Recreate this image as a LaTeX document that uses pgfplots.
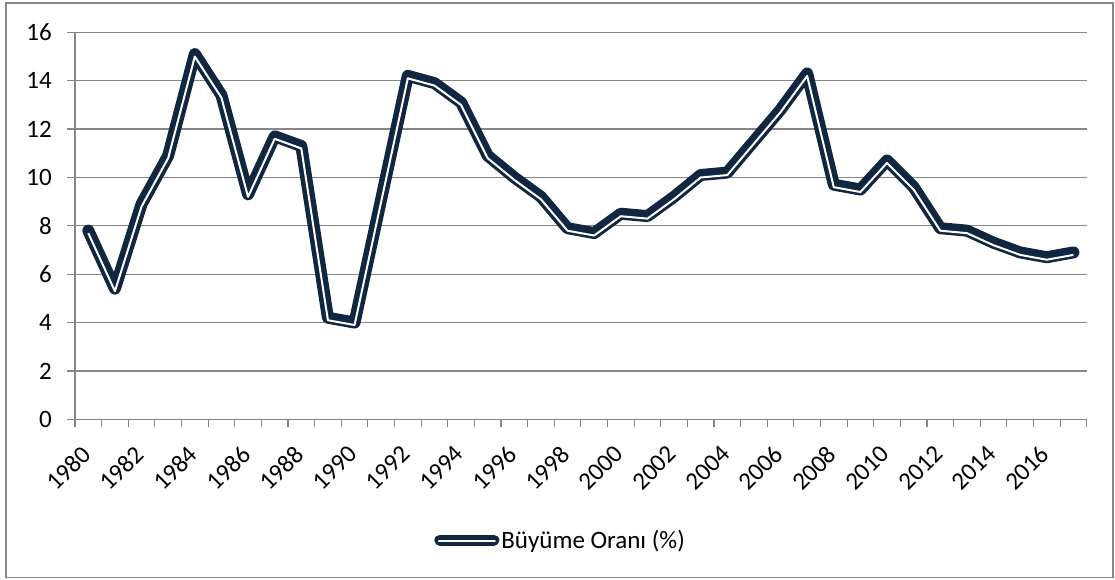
\documentclass[border=0pt]{standalone}
\usepackage{fontspec}
\setmainfont{Carlito}
\usepackage{pgfplots}
\pgfplotsset{compat=1.18}
\usepackage{pgfplotstable}
\definecolor{navy}{RGB}{17,38,64}
\definecolor{gridgray}{RGB}{134,134,134}
\pgfplotstableread{
year val
1980 7.8
1981 5.4
1982 8.9
1983 10.9
1984 15.1
1985 13.4
1986 9.3
1987 11.7
1988 11.3
1989 4.2
1990 4.0
1991 9.1
1992 14.2
1993 13.9
1994 13.1
1995 10.9
1996 10.0
1997 9.2
1998 7.9
1999 7.7
2000 8.5
2001 8.4
2002 9.2
2003 10.1
2004 10.2
2005 11.5
2006 12.8
2007 14.3
2008 9.7
2009 9.5
2010 10.7
2011 9.6
2012 7.9
2013 7.8
2014 7.3
2015 6.9
2016 6.7
2017 6.9
}\datatable
\begin{document}
\begin{tikzpicture}[x=1pt,y=1pt]
\useasboundingbox (0,0) rectangle (1115,579);
\draw[gridgray, line width=1.2pt] (6,1.5) rectangle (1113,576);
\begin{axis}[
  at={(75pt,159.7pt)}, anchor=south west,
  scale only axis, width=1011.7pt, height=387pt,
  xmin=1979.5, xmax=2017.5, ymin=0, ymax=16,
  xtick={1980,1982,...,2016},
  minor xtick={1979.5,1980.5,...,2017.5},
  ytick={0,2,...,16},
  tick align=outside,
  major tick length=8pt, minor tick length=8pt,
  major x tick style={draw=none},
  minor x tick style={gridgray, line width=1.2pt},
  major y tick style={gridgray, line width=1.2pt},
  axis x line*=bottom, axis y line*=left,
  axis line style={gridgray, line width=1.2pt, -},
  ymajorgrids, grid style={gridgray, line width=1.2pt},
  xticklabel={\pgfmathprintnumber[1000 sep={}]{\tick}},
  /pgf/number format/assume math mode=true,
  /pgf/number format/1000 sep={},
  tick label style={font=\fontsize{25}{30}\selectfont, text=black},
  xticklabel style={anchor=east, inner sep=1pt, xshift=-1pt, yshift=-22pt, rotate=45},
  yticklabel style={inner sep=1pt, xshift=-14pt},
  clip=false,
  legend style={at={(0.48,-0.312)}, anchor=center, draw=none, fill=none,
    font=\fontsize{25}{30}\selectfont, inner sep=0pt,
    /tikz/every even column/.append style={column sep=0pt}},
  legend image code/.code={
    \draw[navy, line width=11pt, line cap=round] (4pt,0pt) -- (58pt,0pt);
    \draw[white, line width=2pt] (3pt,-1pt) -- (59pt,-1pt);
  },
]
\addplot[navy, line width=12pt, line join=round, line cap=round] table[x=year,y=val]{\datatable};
\addlegendentry{Büyüme Oranı (\%)}
\addplot[white, line width=2pt, line join=round, forget plot, transform canvas={yshift=-2.5pt}] table[x=year,y=val]{\datatable};
\end{axis}
\end{tikzpicture}
\end{document}
